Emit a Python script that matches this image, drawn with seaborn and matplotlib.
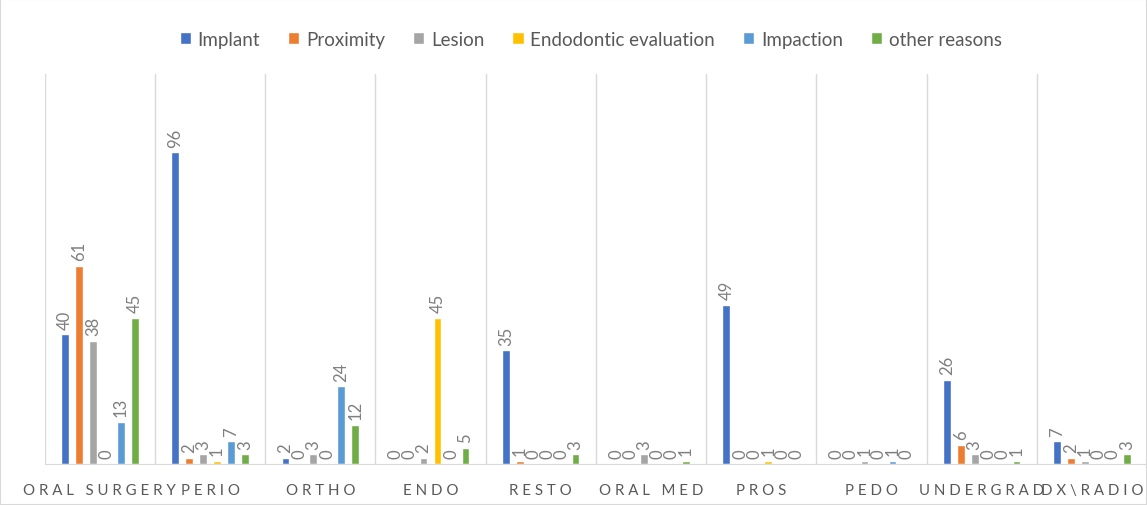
import pandas as pd
import matplotlib
matplotlib.use("Agg")
import matplotlib.pyplot as plt
import seaborn as sns

# departments and referral reasons
departments = ["ORAL SURGERY", "PERIO", "ORTHO", "ENDO", "RESTO",
               "ORAL MED", "PROS", "PEDO", "UNDERGRAD", "DX\\RADIO"]
reasons = ["Implant", "Proximity", "Lesion", "Endodontic evaluation",
           "Impaction", "other reasons"]

implant = [40, 96, 2, 0, 35, 0, 49, 0, 26, 7]
proximity = [61, 2, 0, 0, 1, 0, 0, 0, 6, 2]
lesion = [38, 3, 3, 2, 0, 3, 0, 1, 3, 1]
endodontic = [0, 1, 0, 45, 0, 0, 1, 0, 0, 0]
impaction = [13, 7, 24, 0, 0, 0, 0, 1, 0, 0]
other = [45, 3, 12, 5, 3, 1, 0, 0, 1, 3]

colors = ["#4472C4", "#ED7D31", "#A5A5A5", "#FFC000", "#5B9BD5", "#70AD47"]


def main():
    series = [implant, proximity, lesion, endodontic, impaction, other]
    rows = []
    for reason, vals in zip(reasons, series):
        for dept, v in zip(departments, vals):
            rows.append({"dept": dept, "reason": reason, "count": v})
    df = pd.DataFrame(rows)

    sns.set_style("white")
    plt.rcParams["font.family"] = ["Lato", "DejaVu Sans"]

    fig = plt.figure(figsize=(11.47, 5.06), dpi=100)
    ax = fig.add_axes([0.039, 0.081, 0.961, 0.77])

    sns.barplot(data=df, x="dept", y="count", hue="reason", order=departments,
                hue_order=reasons, palette=colors, saturation=1, width=0.76,
                gap=0.45, ax=ax, legend=True)

    # value labels, rotated like the original
    for cont in ax.containers:
        ax.bar_label(cont, rotation=90, padding=4, color="#7f7f7f", fontsize=12)

    ax.set_xlim(-0.5, len(departments) - 0.5)
    ax.set_ylim(0, 120)
    ax.set_xlabel("")
    ax.set_ylabel("")
    ax.set_yticks([])

    # category separators
    for i in range(len(departments) + 1):
        ax.axvline(i - 0.5, color="#d9d9d9", lw=1, zorder=0)

    for s in ["top", "right", "left"]:
        ax.spines[s].set_visible(False)
    ax.spines["bottom"].set_color("#d9d9d9")

    spaced = [" ".join(list(d)) for d in departments]
    ax.set_xticks(range(len(departments)))
    ax.set_xticklabels(spaced, fontsize=10.8, color="#595959")
    ax.tick_params(axis="x", length=0, pad=14)

    handles, labels = ax.get_legend_handles_labels()
    ax.legend(handles, labels, loc="center", bbox_to_anchor=(0.515, 0.92),
              bbox_transform=fig.transFigure, ncol=6, frameon=False,
              fontsize=13.5, handlelength=0.6, handleheight=0.6,
              handletextpad=0.35, columnspacing=1.5, labelcolor="#595959")

    fig.patches.append(plt.Rectangle((0, 0), 1, 1, transform=fig.transFigure,
                                     fill=False, edgecolor="#d9d9d9", lw=1.5))

    fig.savefig("out.png", dpi=100)


if __name__ == "__main__":
    main()
